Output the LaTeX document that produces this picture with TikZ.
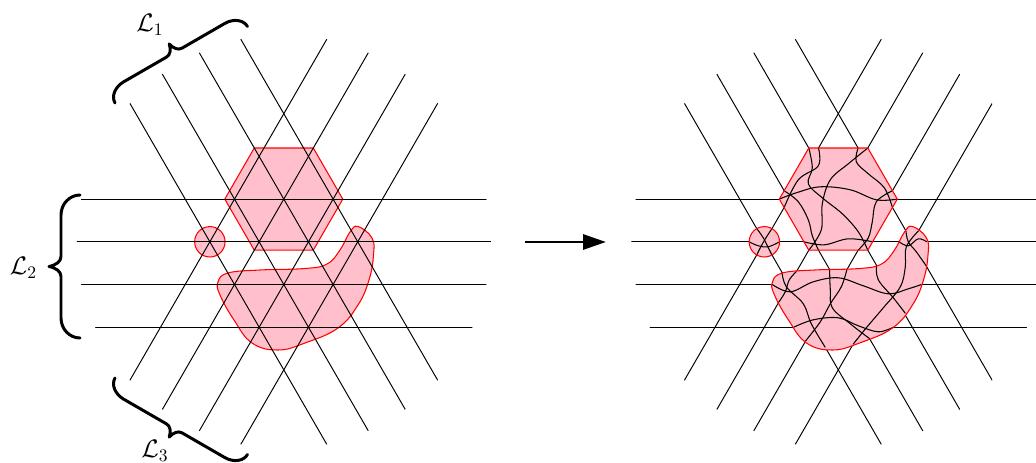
\documentclass[tikz,border=0pt]{standalone}
\usetikzlibrary{arrows.meta}
\definecolor{regionpink}{RGB}{255,192,203}
\tikzset{
  gridline/.style={black, line width=0.55pt},
  regionfill/.style={fill=regionpink},
  regionline/.style={draw=red, line width=0.6pt},
  wig/.style={black, line width=0.6pt, smooth, tension=0.6},
  bracestroke/.style={black, line width=1.7pt, line cap=round, line join=round},
  lbl/.style={inner sep=0pt, font=\fontsize{14}{16}\selectfont}
}
\newcommand{\gridlines}{%
  \begin{scope}
    \clip (0,0) circle (207);
    \foreach \k in {-1,0,1,2} \draw[gridline] (-250,\k*42.7) -- (250,\k*42.7);
    \foreach \x in {-73.95,-24.65,24.65,73.95} {
      \draw[gridline] (\x-125,-216.5) -- (\x+125,216.5);
      \draw[gridline] (\x+125,-216.5) -- (\x-125,216.5);
    }
  \end{scope}}
\newcommand{\hexregion}[1]{\path[#1] (59,-42.7) -- (29.5,-93.8) -- (-29.5,-93.8) -- (-59,-42.7) -- (-29.5,8.4) -- (29.5,8.4) -- cycle;}
\newcommand{\dotregion}[1]{\path[#1] (-73.95,0) circle (15.2);}
\newcommand{\blobregion}[1]{\path[#1] plot[smooth cycle, tension=0.7] coordinates {(74.2,-15.3) (88.2,-3.8) (89.7,13.2) (85.2,38.2) (74.2,63.2) (54.2,86.2) (21.2,101.2) (-5.8,108.2) (-31.8,101.2) (-49.8,78.2) (-63.8,53.2) (-65.8,40.2) (-55.8,31.2) (-23.8,28.2) (21.2,26.7) (43.2,22.2) (56.2,8.2) (66.2,-9.8)};}
% brace: length, straight offset, tip offset, curl length, tip half width
\newcommand{\mybrace}[5]{%
  \draw[bracestroke] (0,0) .. controls (0,{-0.55*#2}) and ({0.45*#4},-#2) .. (#4,-#2)
    -- ({#1/2-#5},-#2) .. controls ({#1/2-0.5*#5},-#2) and ({#1/2-0.15*#5},{-#2-0.4*(#3-#2)}) .. ({#1/2},-#3)
    .. controls ({#1/2+0.15*#5},{-#2-0.4*(#3-#2)}) and ({#1/2+0.5*#5},-#2) .. ({#1/2+#5},-#2)
    -- ({#1-#4},-#2) .. controls ({#1-0.45*#4},-#2) and (#1,{-0.55*#2}) .. (#1,0);}
\begin{document}
\begin{tikzpicture}[x=0.02cm,y=-0.02cm]
\useasboundingbox (0,0) rectangle (1036,463);

% ---------- left panel ----------
\begin{scope}[shift={(283.8,241.8)}]
  \hexregion{regionfill, regionline}
  \dotregion{regionfill, regionline}
  \blobregion{regionfill, regionline}
  \gridlines
\end{scope}

% braces
\begin{scope}[shift={(115,103)}, rotate=30]
  \mybrace{153}{14}{24}{18}{9}
\end{scope}
\begin{scope}[shift={(80,338)}, rotate=90]
  \mybrace{143}{19}{31}{20}{10}
\end{scope}
\begin{scope}[shift={(115,378)}, rotate=-30, yscale=-1]
  \mybrace{153}{14}{24}{18}{9}
\end{scope}
\node[lbl] (L1) at (150,25) {$\mathcal{L}_1$};
\node[lbl] (L2) at (23.5,268) {$\mathcal{L}_2$};
\node[lbl] (L3) at (155,451) {$\mathcal{L}_3$};

% arrow
\coordinate (arrS) at (525,242);
\coordinate (arrE) at (606,242);
\draw[line width=1.7pt, -{Triangle[length=13pt, width=8.5pt]}] (arrS) -- (arrE);

% ---------- right panel ----------
\begin{scope}[shift={(838.3,241.8)}]
  \gridlines
  \hexregion{regionfill}
  \dotregion{regionfill}
  \blobregion{regionfill}
  % hexagon
  \draw[wig] plot coordinates {(-59,-42.7) (-42,-49) (-18,-55) (12,-52) (38,-42) (59,-42.7)};
  \draw[wig] plot coordinates {(-34.35,0) (-14,3) (10,-3) (34.35,0)};
  \draw[wig] plot coordinates {(-54.15,-51.1) (-40,-40) (-30,-22) (-26,-6) (-19.8,8.4)};
  \draw[wig] plot coordinates {(-29.5,-93.8) (-26,-74) (-30,-58) (-16,-44) (4,-28) (20,-10) (29.5,8.4)};
  \draw[wig] plot coordinates {(19.8,-93.8) (18,-80) (30,-68) (46,-54) (54.15,-34.3)};
  \draw[wig] plot coordinates {(29.5,-93.8) (10,-78) (-8,-62) (-16,-38) (-17,-12) (-29.5,8.4)};
  \draw[wig] plot coordinates {(54.15,-51.1) (38,-40) (34,-20) (30,-4) (19.8,8.4)};
  \draw[wig] plot coordinates {(-19.8,-93.8) (-20,-76) (-40,-62) (-54.15,-34.3)};
  % small disc
  \draw[wig] plot coordinates {(-89.15,0) (-80,4) (-70,5) (-58.75,0)};
  \draw[wig] plot coordinates {(-81.55,-13.16) (-75,-4) (-70,6) (-66.35,13.16)};
  \draw[wig] plot coordinates {(-66.35,-13.16) (-73,-3) (-78,6) (-81.55,13.16)};
  % blob
  \draw[wig] plot coordinates {(60.8,0) (70,4) (80,-3) (88.5,0)};
  \draw[wig] plot coordinates {(-66,42.7) (-48,50) (-25,40) (0,36) (25,44) (50,52) (70,47) (83.2,42.7)};
  \draw[wig] plot coordinates {(-44.5,85.4) (-25,78) (0,76) (20,84) (40,90) (55,85.4)};
  \draw[wig] plot coordinates {(-56.3,30.5) (-52,45) (-35,62) (-27,82) (-13,105.6)};
  \draw[wig] plot coordinates {(-8.7,27.7) (-8,48) (-6,66) (12,82) (31.5,97)};
  \draw[wig] plot coordinates {(38.1,23.3) (40,38) (55,56) (67,71.5)};
  \draw[wig] plot coordinates {(67.6,-11) (70,0) (78,10) (88.2,24.5)};
  \draw[wig] plot coordinates {(80.3,-11) (68,5) (67,25) (62,45) (45,66) (28,86) (14.8,102.5)};
  \draw[wig] plot coordinates {(8.7,27.5) (3,45) (-8,62) (-18,80) (-33,99.5)};
  \draw[wig] plot coordinates {(-41.8,29.7) (-49,38) (-53,50) (-60,61)};
  \hexregion{regionline}
  \dotregion{regionline}
  \blobregion{regionline}
\end{scope}
\end{tikzpicture}
\end{document}
